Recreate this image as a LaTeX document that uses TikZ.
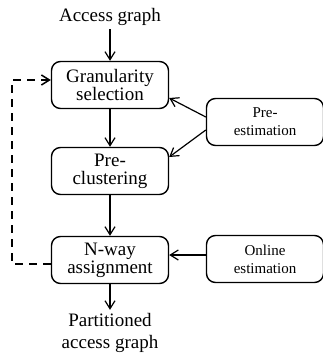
\documentclass[tikz,border=0pt]{standalone}
\usepackage{fontspec}
\setmainfont{Liberation Serif}
\usepackage{tikz}
\usetikzlibrary{positioning}
\usetikzlibrary{arrows.meta}

\tikzset{
	stage/.style={draw, line width=1.4pt, rounded corners=9pt, align=center,
		minimum width=117pt, minimum height=47pt, inner sep=2pt,
		font=\fontsize{19}{18}\selectfont},
	estim/.style={stage, font=\fontsize{15}{18}\selectfont},
	flow/.style={line width=1.2pt, -{Straight Barb[length=8pt,width=10pt]}},
	loopback/.style={flow, line width=1.5pt, dash pattern=on 8pt off 6pt}
}

\begin{document}
\begin{tikzpicture}[x=1pt,y=-1pt]

	\useasboundingbox (0,0) rectangle (323,353);

	% Input and output texts
	\node[font=\fontsize{19}{18}\selectfont] (In) at (110,17) {Access graph};
	\node[font=\fontsize{19}{22}\selectfont, align=center] (Out) at (110,333)
		{Partitioned\\access graph};

	% The three stages, one under the other
	\node[stage] (Gran) at (110,85)  {Granularity\\selection};
	\node[stage] (Clus) at (110,171) {Pre-\\clustering};
	\node[stage] (Nway) at (110,260) {N-way\\assignment};

	% Estimators on the right
	\node[estim] (PreEst) at (265,122) {Pre-\\estimation};
	\node[estim] (OnEst)  at (265,259) {Online\\estimation};

	% Loop back corner
	\coordinate (Corner) at (12,264);

	%%%%%%%%%%%%%%%%%%%%%%%%%%%%%%%%%%%%%%%%%%%%%%%%%%%%%%%%%%%%%%
	\draw[flow] (In) -- (Gran);
	\draw[flow] (Gran) -- (Clus);
	\draw[flow] (Clus) -- (Nway);
	\draw[flow] (Nway) -- (Out);

	\draw[flow] (PreEst.west |- 0,117) -- (Gran.south east |- 0,98);
	\draw[flow] (PreEst.west |- 0,130) -- (Clus.north east |- 0,157);
	\draw[flow] (OnEst.west |- 0,255) -- (Nway.east |- 0,255);

	\draw[loopback] (Nway.west |- Corner) -- (Corner) |- (Gran.west |- 0,80);

\end{tikzpicture}
\end{document}
